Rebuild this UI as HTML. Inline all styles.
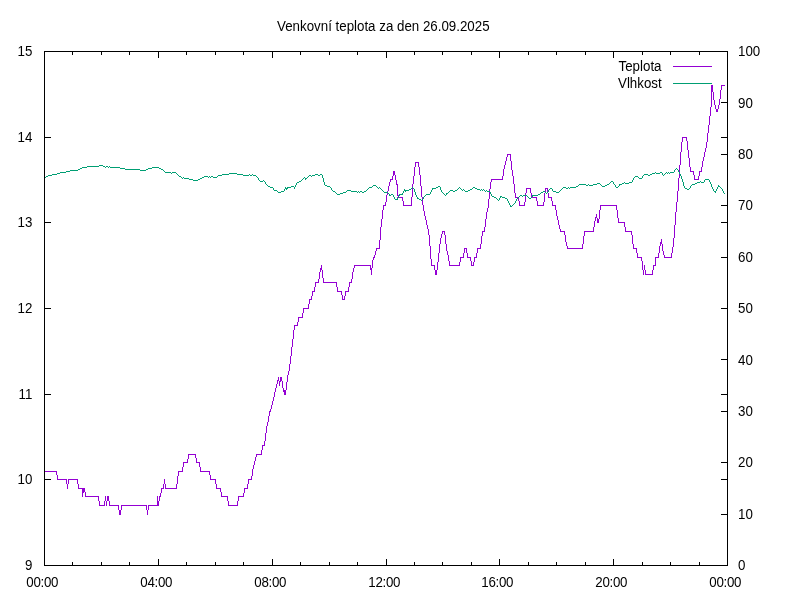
<!DOCTYPE html>
<html><head><meta charset="utf-8"><title>Venkovní teplota</title>
<style>
html,body{margin:0;padding:0;background:#fff;}
body{width:800px;height:600px;overflow:hidden;}
svg{display:block;will-change:transform;}
text{font-family:"Liberation Sans",sans-serif;font-size:13.33px;fill:#000;}
</style></head><body>
<svg width="800" height="600" viewBox="0 0 800 600">
<rect width="800" height="600" fill="#fff"/>
<g shape-rendering="crispEdges" fill="none" stroke-width="1" stroke-linejoin="miter">
<path stroke="#9400d3" d="M319.5 272v7M489.5 189v10M77.5 479v5M702.5 161v6M248.5 479v5M436.5 270v5M420.5 175v11M471.5 261v5M719.5 99v6M261.5 450v5M487.5 208v4M413.5 176v8M66.5 479v5M381.5 219v8M711.5 85v22M642.5 261v9M662.5 244v7M372.5 260v8M161.5 488v5M593.5 227v5M678.5 178v13M715.5 105v4M545.5 188v5M706.5 142v6M429.5 235v11M617.5 210v8M448.5 255v6M710.5 107v9M412.5 184v13M264.5 441v5M397.5 184v12M511.5 161v9M348.5 287v5M284.5 390v5M512.5 170v6M504.5 165v4M187.5 459v4M322.5 270v8M556.5 210v6M389.5 182v4M176.5 484v5M526.5 188v5M558.5 220v5M285.5 390v5M84.5 488v4M687.5 141v9M344.5 296v4M221.5 492v5M293.5 330v9M463.5 253v5M488.5 199v9M163.5 484v5M426.5 220v5M68.5 479v5M183.5 462v5M318.5 279v4M445.5 235v9M148.5 505v5M99.5 501v5M714.5 100v5M435.5 270v5M247.5 484v5M352.5 272v7M565.5 235v7M718.5 105v4M440.5 238v6M518.5 197v4M677.5 191v11M689.5 158v9M380.5 227v13M486.5 212v7M302.5 313v5M693.5 171v4M555.5 205v5M209.5 471v4M379.5 240v9M336.5 282v5M411.5 197v9M466.5 248v5M513.5 176v8M633.5 244v5M425.5 216v4M444.5 231v4M596.5 214v4M388.5 186v5M98.5 496v5M682.5 137v5M419.5 167v8M227.5 496v5M637.5 253v5M503.5 169v7M375.5 251v4M83.5 488v5M482.5 231v5M56.5 471v4M292.5 339v8M182.5 467v5M147.5 510v5M652.5 270v5M351.5 279v4M644.5 265v5M717.5 109v3M439.5 244v9M422.5 197v8M178.5 471v5M507.5 154v3M291.5 347v9M551.5 197v4M721.5 85v5M383.5 205v5M159.5 496v5M280.5 377v5M584.5 231v5M490.5 182v7M396.5 180v5M320.5 268v4M655.5 257v9M262.5 445v5M297.5 322v4M283.5 388v4M704.5 152v5M414.5 167v9M599.5 210v9M276.5 384v4M720.5 90v9M557.5 216v4M709.5 116v9M431.5 259v7M713.5 92v8M78.5 484v5M681.5 142v10M374.5 255v3M421.5 186v11M82.5 488v9M387.5 191v4M481.5 236v8M671.5 253v5M510.5 154v7M675.5 212v13M519.5 201v5M680.5 152v13M699.5 171v5M271.5 405v4M438.5 253v9M430.5 246v13M618.5 218v5M449.5 261v5M505.5 161v4M658.5 253v5M286.5 382v8M177.5 476v8M312.5 291v5M485.5 219v8M311.5 296v4M279.5 381v5M157.5 496v10M108.5 496v5M674.5 225v13M632.5 235v9M679.5 165v13M531.5 193v5M476.5 253v5M382.5 210v9M676.5 202v10M215.5 479v5M119.5 510v5M583.5 236v8M237.5 501v5M275.5 388v4M342.5 295v5M636.5 248v5M708.5 125v8M85.5 492v5M688.5 150v8M594.5 221v6M386.5 195v7M446.5 244v7M265.5 433v8M281.5 377v4M196.5 458v5M282.5 381v7M418.5 162v5M390.5 179v3M210.5 475v5M345.5 291v5M464.5 248v5M712.5 85v7M106.5 501v5M484.5 227v5M200.5 467v5M653.5 265v5M673.5 238v9M290.5 356v8M525.5 193v9M460.5 257v5M707.5 133v9M315.5 282v5M244.5 488v5M252.5 469v7M278.5 377v4M107.5 496v5M118.5 505v5M376.5 248v3M537.5 201v5M437.5 262v8M470.5 257v4M641.5 257v4M473.5 262v4M559.5 225v4M289.5 364v7M616.5 205v5M273.5 397v4M121.5 505v5M195.5 454v4M544.5 193v9M705.5 148v4M268.5 416v6M514.5 184v9M57.5 475v5M447.5 251v4M506.5 157v4M600.5 205v5M392.5 176v4M543.5 202v4M309.5 299v5M104.5 501v5M402.5 197v4M536.5 197v4M659.5 246v7M254.5 461v4M663.5 251v4M105.5 496v5M424.5 211v5M703.5 157v4M398.5 195v3M303.5 308v5M266.5 426v7M716.5 109v3M698.5 176v4M270.5 409v3M427.5 225v4M515.5 193v5M349.5 282v5M624.5 222v5M690.5 167v5M298.5 317v5M597.5 218v5M164.5 479v5M672.5 247v6M441.5 234v4M256.5 454v3M701.5 167v5M645.5 270v5M393.5 171v5M548.5 193v5M371.5 268v7M474.5 257v5M502.5 176v4M255.5 457v4M491.5 179v3M158.5 501v5M415.5 162v5M109.5 501v5M120.5 510v5M524.5 202v4M287.5 375v7M370.5 265v5M625.5 227v5M238.5 496v5M165.5 484v5M595.5 217v4M643.5 270v5M341.5 291v4M354.5 265v3M323.5 278v5M566.5 242v4M160.5 493v4M394.5 171v4M385.5 202v4M199.5 462v5M277.5 380v4M337.5 287v5M294.5 325v5M467.5 253v5M228.5 501v5M661.5 239v5M272.5 401v4M631.5 231v4M251.5 476v4M686.5 137v4M220.5 488v4M428.5 229v6M660.5 242v4M321.5 265v5M146.5 505v5M547.5 188v5M253.5 465v4M395.5 175v5M582.5 244v5M434.5 265v5M274.5 392v5M564.5 231v4M423.5 205v6M530.5 188v5M269.5 411v5M598.5 219v4M560.5 229v3M459.5 262v4M314.5 287v5M243.5 493v4M552.5 201v5M188.5 454v5M216.5 484v5M267.5 422v4M403.5 201v5M477.5 248v5M308.5 304v5M67.5 484v5M480.5 244v5M442.5 231v3M373.5 257v3M694.5 175v5M353.5 268v4M288.5 371v4M664.5 255v3M567.5 246v3M722 85.5h3M683 137.5h3M508 154.5h2M416 162.5h2M691 171.5h2M700 171.5h1M391 179.5h1M492 179.5h10M695 179.5h3M527 188.5h3M546 188.5h1M397 197.5h1M399 197.5h3M516 197.5h2M532 197.5h4M549 197.5h2M384 205.5h1M404 205.5h7M520 205.5h4M538 205.5h5M553 205.5h2M601 205.5h15M619 222.5h5M443 231.5h1M483 231.5h1M561 231.5h3M585 231.5h8M626 231.5h5M377 248.5h2M465 248.5h1M478 248.5h2M568 248.5h14M634 248.5h2M461 257.5h2M468 257.5h2M475 257.5h1M638 257.5h3M656 257.5h2M665 257.5h6M355 265.5h15M432 265.5h2M450 265.5h9M472 265.5h1M654 265.5h1M646 274.5h6M316 282.5h2M324 282.5h12M350 282.5h1M313 291.5h1M338 291.5h3M346 291.5h2M310 299.5h1M343 299.5h1M304 308.5h4M299 317.5h3M295 325.5h2M263 445.5h1M189 454.5h6M257 454.5h4M184 462.5h3M197 462.5h2M45 471.5h11M179 471.5h3M201 471.5h8M58 479.5h8M69 479.5h8M211 479.5h4M249 479.5h2M79 488.5h3M162 488.5h1M166 488.5h10M217 488.5h3M245 488.5h2M86 496.5h12M222 496.5h5M239 496.5h4M100 505.5h4M110 505.5h8M122 505.5h24M149 505.5h8M229 505.5h8"/>
<path stroke="#009e73" d="M500.5 196v2M712.5 187v2M394.5 197v2M690.5 186v2M431.5 190v2M683.5 182v4M716.5 189v2M322.5 175v3M446.5 193v2M397.5 198v2M393.5 195v2M287.5 187v2M507.5 199v2M709.5 180v2M723.5 191v2M389.5 194v2M682.5 179v3M632.5 180v2M331.5 188v2M499.5 198v2M532.5 195v2M510.5 205v2M678.5 170v2M715.5 191v2M548.5 190v2M491.5 194v2M286.5 188v2M509.5 203v2M430.5 192v2M324.5 182v3M711.5 184v3M414.5 189v3M704.5 180v2M285.5 187v2M722.5 189v2M490.5 192v2M710.5 182v2M440.5 187v3M323.5 178v4M516.5 199v2M619.5 184v2M662.5 173v2M258.5 178v2M296.5 183v2M399.5 194v2M718.5 185v2M295.5 185v2M642.5 176v2M615.5 185v2M417.5 197v2M284.5 189v2M273.5 188v2M398.5 196v2M717.5 187v2M515.5 201v2M416.5 195v2M404.5 189v2M405.5 190v2M713.5 189v2M294.5 187v2M674.5 170v2M423.5 197v2M613.5 182v2M633.5 178v2M415.5 192v3M552.5 189v2M305.5 178v2M403.5 191v2M681.5 176v3M441.5 190v2M684.5 186v2M402.5 193v2M680.5 174v2M265.5 182v2M432.5 188v2M679.5 172v2M508.5 201v2M99 165.5h4M87 166.5h12M103 166.5h2M106 166.5h2M109 166.5h1M82 167.5h5M105 167.5h1M108 167.5h1M110 167.5h10M152 167.5h7M80 168.5h2M120 168.5h5M148 168.5h4M159 168.5h2M676 168.5h1M78 169.5h2M125 169.5h15M146 169.5h2M161 169.5h2M675 169.5h1M677 169.5h1M70 170.5h8M140 170.5h6M163 170.5h1M66 171.5h4M164 171.5h1M60 172.5h6M165 172.5h6M172 172.5h4M655 172.5h1M660 172.5h2M666 172.5h1M668 172.5h1M670 172.5h4M57 173.5h3M171 173.5h1M176 173.5h1M229 173.5h8M652 173.5h3M656 173.5h4M665 173.5h1M667 173.5h1M669 173.5h1M52 174.5h5M177 174.5h1M222 174.5h7M237 174.5h6M249 174.5h1M252 174.5h1M315 174.5h3M320 174.5h2M644 174.5h4M650 174.5h2M664 174.5h1M48 175.5h4M178 175.5h1M218 175.5h4M243 175.5h6M250 175.5h2M253 175.5h3M309 175.5h2M312 175.5h3M318 175.5h2M643 175.5h1M648 175.5h2M663 175.5h1M46 176.5h2M179 176.5h2M204 176.5h4M209 176.5h1M211 176.5h2M217 176.5h1M256 176.5h1M308 176.5h1M311 176.5h1M635 176.5h3M45 177.5h1M181 177.5h1M183 177.5h1M202 177.5h2M208 177.5h1M210 177.5h1M213 177.5h4M257 177.5h1M304 177.5h1M307 177.5h1M634 177.5h1M638 177.5h1M182 178.5h1M184 178.5h5M200 178.5h2M303 178.5h1M306 178.5h1M639 178.5h3M189 179.5h4M198 179.5h2M302 179.5h1M705 179.5h4M193 180.5h5M259 180.5h1M263 180.5h1M301 180.5h1M260 181.5h3M264 181.5h1M299 181.5h2M611 181.5h2M700 181.5h1M297 182.5h2M610 182.5h1M624 182.5h1M629 182.5h3M697 182.5h3M701 182.5h3M597 183.5h3M609 183.5h1M622 183.5h2M625 183.5h4M695 183.5h2M266 184.5h1M579 184.5h7M588 184.5h1M593 184.5h4M600 184.5h1M607 184.5h2M614 184.5h1M620 184.5h2M692 184.5h3M267 185.5h1M325 185.5h2M373 185.5h3M578 185.5h1M586 185.5h2M589 185.5h4M601 185.5h1M605 185.5h2M691 185.5h1M268 186.5h2M291 186.5h3M327 186.5h3M372 186.5h1M376 186.5h1M438 186.5h2M576 186.5h2M602 186.5h3M618 186.5h1M719 186.5h1M270 187.5h3M288 187.5h3M330 187.5h1M369 187.5h3M377 187.5h1M379 187.5h1M412 187.5h1M436 187.5h2M459 187.5h1M473 187.5h2M563 187.5h3M568 187.5h1M570 187.5h6M616 187.5h2M720 187.5h1M368 188.5h1M378 188.5h1M380 188.5h1M411 188.5h1M413 188.5h1M433 188.5h3M458 188.5h1M460 188.5h1M472 188.5h1M475 188.5h2M550 188.5h2M562 188.5h1M566 188.5h2M569 188.5h1M685 188.5h2M689 188.5h1M721 188.5h1M367 189.5h1M381 189.5h1M409 189.5h2M457 189.5h1M461 189.5h1M463 189.5h1M470 189.5h2M477 189.5h3M481 189.5h1M483 189.5h1M549 189.5h1M561 189.5h1M687 189.5h2M274 190.5h3M332 190.5h1M347 190.5h4M366 190.5h1M382 190.5h1M406 190.5h3M450 190.5h3M455 190.5h2M462 190.5h1M464 190.5h1M468 190.5h2M480 190.5h1M482 190.5h1M484 190.5h1M486 190.5h1M560 190.5h1M277 191.5h1M281 191.5h3M333 191.5h2M346 191.5h1M351 191.5h6M358 191.5h1M360 191.5h2M364 191.5h2M383 191.5h1M449 191.5h1M453 191.5h2M465 191.5h3M485 191.5h1M487 191.5h3M543 191.5h2M553 191.5h3M559 191.5h1M714 191.5h1M278 192.5h3M335 192.5h1M343 192.5h3M357 192.5h1M359 192.5h1M362 192.5h2M384 192.5h4M442 192.5h1M448 192.5h1M541 192.5h2M545 192.5h1M547 192.5h1M556 192.5h3M336 193.5h1M340 193.5h3M388 193.5h1M443 193.5h1M447 193.5h1M540 193.5h1M546 193.5h1M724 193.5h1M337 194.5h3M391 194.5h2M400 194.5h2M426 194.5h4M444 194.5h1M538 194.5h2M390 195.5h1M425 195.5h1M445 195.5h1M520 195.5h2M523 195.5h4M533 195.5h5M424 196.5h1M492 196.5h2M501 196.5h1M519 196.5h1M522 196.5h1M527 196.5h1M494 197.5h2M502 197.5h3M518 197.5h1M528 197.5h1M531 197.5h1M418 198.5h1M496 198.5h1M505 198.5h2M517 198.5h1M529 198.5h2M395 199.5h2M419 199.5h2M422 199.5h1M497 199.5h1M421 200.5h1M498 200.5h1M514 203.5h1M513 204.5h1M512 205.5h1M511 206.5h1"/>
<line x1="673" y1="66.5" x2="712" y2="66.5" stroke="#9400d3"/>
<line x1="673" y1="83.5" x2="712" y2="83.5" stroke="#009e73"/>
</g>
<g shape-rendering="crispEdges" fill="#000">
<rect x="44" y="51" width="684" height="1"/>
<rect x="44" y="565" width="684" height="1"/>
<rect x="44" y="51" width="1" height="515"/>
<rect x="727" y="51" width="1" height="515"/>
<rect x="44" y="559" width="1" height="6"/>
<rect x="44" y="52" width="1" height="6"/>
<rect x="72" y="562" width="1" height="3"/>
<rect x="72" y="52" width="1" height="3"/>
<rect x="101" y="562" width="1" height="3"/>
<rect x="101" y="52" width="1" height="3"/>
<rect x="129" y="562" width="1" height="3"/>
<rect x="129" y="52" width="1" height="3"/>
<rect x="158" y="559" width="1" height="6"/>
<rect x="158" y="52" width="1" height="6"/>
<rect x="186" y="562" width="1" height="3"/>
<rect x="186" y="52" width="1" height="3"/>
<rect x="215" y="562" width="1" height="3"/>
<rect x="215" y="52" width="1" height="3"/>
<rect x="243" y="562" width="1" height="3"/>
<rect x="243" y="52" width="1" height="3"/>
<rect x="272" y="559" width="1" height="6"/>
<rect x="272" y="52" width="1" height="6"/>
<rect x="300" y="562" width="1" height="3"/>
<rect x="300" y="52" width="1" height="3"/>
<rect x="329" y="562" width="1" height="3"/>
<rect x="329" y="52" width="1" height="3"/>
<rect x="357" y="562" width="1" height="3"/>
<rect x="357" y="52" width="1" height="3"/>
<rect x="386" y="559" width="1" height="6"/>
<rect x="386" y="52" width="1" height="6"/>
<rect x="414" y="562" width="1" height="3"/>
<rect x="414" y="52" width="1" height="3"/>
<rect x="442" y="562" width="1" height="3"/>
<rect x="442" y="52" width="1" height="3"/>
<rect x="471" y="562" width="1" height="3"/>
<rect x="471" y="52" width="1" height="3"/>
<rect x="499" y="559" width="1" height="6"/>
<rect x="499" y="52" width="1" height="6"/>
<rect x="528" y="562" width="1" height="3"/>
<rect x="528" y="52" width="1" height="3"/>
<rect x="556" y="562" width="1" height="3"/>
<rect x="556" y="52" width="1" height="3"/>
<rect x="585" y="562" width="1" height="3"/>
<rect x="585" y="52" width="1" height="3"/>
<rect x="613" y="559" width="1" height="6"/>
<rect x="613" y="52" width="1" height="6"/>
<rect x="642" y="562" width="1" height="3"/>
<rect x="642" y="52" width="1" height="3"/>
<rect x="670" y="562" width="1" height="3"/>
<rect x="670" y="52" width="1" height="3"/>
<rect x="699" y="562" width="1" height="3"/>
<rect x="699" y="52" width="1" height="3"/>
<rect x="727" y="559" width="1" height="6"/>
<rect x="727" y="52" width="1" height="6"/>
<rect x="45" y="565" width="6" height="1"/>
<rect x="721" y="565" width="6" height="1"/>
<rect x="45" y="479" width="6" height="1"/>
<rect x="721" y="479" width="6" height="1"/>
<rect x="45" y="394" width="6" height="1"/>
<rect x="721" y="394" width="6" height="1"/>
<rect x="45" y="308" width="6" height="1"/>
<rect x="721" y="308" width="6" height="1"/>
<rect x="45" y="222" width="6" height="1"/>
<rect x="721" y="222" width="6" height="1"/>
<rect x="45" y="137" width="6" height="1"/>
<rect x="721" y="137" width="6" height="1"/>
<rect x="45" y="51" width="6" height="1"/>
<rect x="721" y="51" width="6" height="1"/>
<rect x="721" y="565" width="6" height="1"/>
<rect x="721" y="514" width="6" height="1"/>
<rect x="721" y="462" width="6" height="1"/>
<rect x="721" y="411" width="6" height="1"/>
<rect x="721" y="359" width="6" height="1"/>
<rect x="721" y="308" width="6" height="1"/>
<rect x="721" y="257" width="6" height="1"/>
<rect x="721" y="205" width="6" height="1"/>
<rect x="721" y="154" width="6" height="1"/>
<rect x="721" y="102" width="6" height="1"/>
<rect x="721" y="51" width="6" height="1"/>
</g>
<g>
<text transform="translate(383.3,30.5) scale(1,1.1)" text-anchor="middle">Venkovní teplota za den 26.09.2025</text>
<text transform="translate(661.5,71) scale(1,1.1)" text-anchor="end">Teplota</text>
<text transform="translate(661.7,88) scale(1,1.1)" text-anchor="end">Vlhkost</text>
<text transform="translate(42.2,587) scale(1,1.1)" text-anchor="middle" style="letter-spacing:-0.33px">00:00</text>
<text transform="translate(156.2,587) scale(1,1.1)" text-anchor="middle" style="letter-spacing:-0.33px">04:00</text>
<text transform="translate(270.2,587) scale(1,1.1)" text-anchor="middle" style="letter-spacing:-0.33px">08:00</text>
<text transform="translate(384.2,587) scale(1,1.1)" text-anchor="middle" style="letter-spacing:-0.33px">12:00</text>
<text transform="translate(497.2,587) scale(1,1.1)" text-anchor="middle" style="letter-spacing:-0.33px">16:00</text>
<text transform="translate(611.2,587) scale(1,1.1)" text-anchor="middle" style="letter-spacing:-0.33px">20:00</text>
<text transform="translate(725.2,587) scale(1,1.1)" text-anchor="middle" style="letter-spacing:-0.33px">00:00</text>
<text transform="translate(32.4,570.1) scale(1,1.1)" text-anchor="end">9</text>
<text transform="translate(32.4,484.4) scale(1,1.1)" text-anchor="end">10</text>
<text transform="translate(32.4,398.8) scale(1,1.1)" text-anchor="end">11</text>
<text transform="translate(32.4,313.1) scale(1,1.1)" text-anchor="end">12</text>
<text transform="translate(32.4,227.4) scale(1,1.1)" text-anchor="end">13</text>
<text transform="translate(32.4,141.8) scale(1,1.1)" text-anchor="end">14</text>
<text transform="translate(32.4,56.1) scale(1,1.1)" text-anchor="end">15</text>
<text transform="translate(738,570.1) scale(1,1.1)">0</text>
<text transform="translate(738,518.7) scale(1,1.1)">10</text>
<text transform="translate(738,467.3) scale(1,1.1)">20</text>
<text transform="translate(738,415.9) scale(1,1.1)">30</text>
<text transform="translate(738,364.5) scale(1,1.1)">40</text>
<text transform="translate(738,313.1) scale(1,1.1)">50</text>
<text transform="translate(738,261.7) scale(1,1.1)">60</text>
<text transform="translate(738,210.3) scale(1,1.1)">70</text>
<text transform="translate(738,158.9) scale(1,1.1)">80</text>
<text transform="translate(738,107.5) scale(1,1.1)">90</text>
<text transform="translate(738,56.1) scale(1,1.1)">100</text>
</g>
</svg>
</body></html>
